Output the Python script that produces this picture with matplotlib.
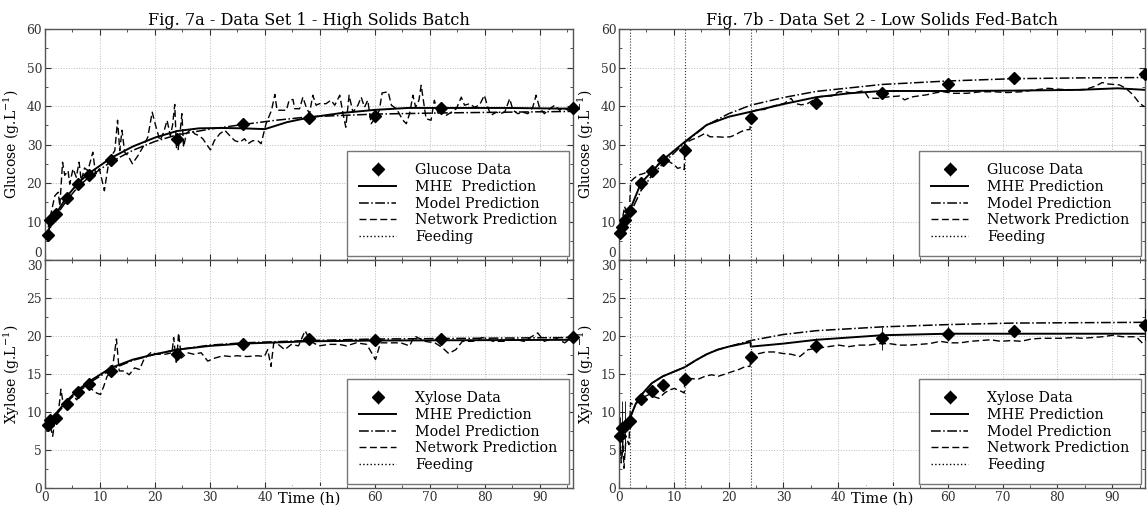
import numpy as np
import matplotlib
matplotlib.use("Agg")
import matplotlib.pyplot as plt
from matplotlib.ticker import MultipleLocator

plt.rcParams['font.family'] = ['DejaVu Serif']
plt.rcParams['mathtext.fontset'] = 'dejavuserif'

# ---- Data set 1 (high solids batch) ----
t_data_1 = [0.5, 1, 2, 4, 6, 8, 12, 24, 36, 48, 60, 72, 96]
glc_data_1 = [6.5, 10.5, 12.0, 16.0, 19.7, 22.0, 26.0, 31.5, 35.3, 37.0, 37.3, 39.5, 39.5]
glc_err_1 = [0.8, 0.8, 0.6, 0.5, 0.6, 0.5, 0.5, 1.5, 0.6, 0.6, 0.8, 0.6, 0.6]
xyl_data_1 = [8.3, 9.0, 9.2, 11.1, 12.6, 13.7, 15.4, 17.6, 19.0, 19.6, 19.5, 19.6, 19.9]
xyl_err_1 = [0.8, 0.8, 0.6, 0.4, 0.4, 0.4, 0.6, 0.8, 0.4, 0.5, 0.4, 0.4, 0.4]

t_mhe_1 = [0, 1, 2, 4, 6, 8, 12, 16, 20, 24, 28, 32, 36, 40, 44, 48, 54, 60, 66, 72, 84, 96]
glc_mhe_1 = [5.5, 9.0, 12.0, 16.5, 20.0, 22.5, 26.5, 29.5, 31.8, 33.5, 34.2, 34.3, 34.2, 34.0,
             35.8, 37.0, 38.2, 39.0, 39.5, 39.5, 39.5, 39.3]
t_mod_1 = [0, 2, 4, 6, 8, 12, 16, 20, 24, 30, 36, 42, 48, 60, 72, 84, 96]
glc_mod_1 = [5.5, 11.5, 15.5, 19.0, 21.5, 25.5, 28.5, 30.8, 32.5, 34.0, 35.2, 36.3, 37.2,
             37.9, 38.2, 38.4, 38.6]
t_xmhe_1 = [0, 2, 4, 6, 8, 12, 16, 20, 24, 30, 36, 48, 60, 96]
xyl_mhe_1 = [8.2, 9.8, 11.5, 12.9, 14.0, 15.8, 16.9, 17.6, 18.2, 18.7, 19.0, 19.3, 19.4, 19.5]
xyl_mod_1 = [8.0, 9.6, 11.3, 12.7, 13.8, 15.6, 16.8, 17.6, 18.2, 18.8, 19.1, 19.4, 19.6, 19.8]

t_net_1g = [0.2, 1.2, 1.8, 2.4, 2.7, 3.2, 3.6, 4.2, 4.5, 5.1, 5.7, 6.2, 6.6, 7.2, 7.8, 8.7, 9.2,
            9.9, 10.8, 11.5, 12.1, 12.7, 13.2, 13.6, 14.0, 14.5, 15.1, 15.9, 16.9, 17.8, 18.7,
            19.5, 20.2, 20.9, 21.6, 22.2, 22.8, 23.2, 23.6, 23.9, 24.2, 24.6, 24.9, 25.2, 25.7,
            26.6, 27.2, 28.0, 28.7, 29.3, 30.1, 30.8, 31.8, 32.7, 33.6, 34.5, 35.4, 36.3, 36.9,
            37.8, 38.7, 39.3, 40.2, 41.2, 41.8, 42.2, 43.3, 43.9, 44.4, 45.1, 45.4, 46.3, 46.9,
            47.5, 48.1, 48.7, 49.3, 49.9, 51.1, 52.0, 52.7, 53.6, 54.2, 54.7, 55.3, 56.0, 56.9,
            57.5, 58.1, 58.7, 59.3, 60.2, 60.8, 61.3, 62.4, 63.0, 63.9, 65.1, 65.7, 66.3, 66.9,
            67.4, 68.0, 68.4, 68.8, 69.3, 70.2, 70.8, 71.5, 72.1, 73.0, 73.9, 74.8, 75.7, 76.3,
            77.2, 78.1, 79.0, 79.9, 80.5, 81.1, 82.1, 82.7, 83.6, 84.5, 85.1, 86.0, 86.9, 87.8,
            88.7, 89.3, 89.9, 90.8, 91.8, 92.7, 93.6, 94.2, 95.1, 95.7]
glc_net_1 = [5.8, 12.8, 16.7, 17.6, 14.0, 25.4, 22.0, 23.2, 19.7, 23.7, 21.5, 25.4, 20.6, 23.9,
             23.2, 28.0, 22.3, 23.7, 18.0, 24.5, 27.1, 28.4, 36.3, 28.4, 33.7, 28.0, 27.1, 25.0,
             27.1, 29.3, 31.9, 38.4, 34.5, 31.0, 33.2, 36.3, 32.3, 35.0, 40.4, 29.3, 28.4, 33.7,
             38.0, 29.3, 32.8, 34.1, 32.8, 32.3, 31.5, 30.2, 28.6, 31.0, 32.8, 33.7, 32.3, 31.0,
             30.6, 31.5, 30.2, 31.0, 31.0, 30.2, 35.4, 38.9, 43.0, 38.9, 38.9, 38.9, 41.5, 41.7,
             39.3, 39.3, 42.3, 39.7, 38.0, 42.8, 40.2, 40.6, 40.6, 41.5, 40.2, 42.8, 38.0, 34.5,
             42.8, 38.4, 40.2, 42.3, 39.7, 41.5, 35.4, 37.1, 38.9, 43.4, 43.7, 40.2, 39.3, 36.3,
             35.4, 38.0, 42.8, 39.7, 41.5, 45.4, 41.5, 36.7, 36.3, 41.5, 38.0, 39.3, 37.6, 38.4,
             39.3, 42.3, 40.2, 40.6, 39.7, 40.2, 42.8, 39.7, 37.6, 38.4, 38.0, 38.4, 41.9, 38.9,
             38.0, 38.4, 38.0, 39.7, 42.8, 39.7, 38.0, 39.3, 40.2, 38.9, 39.7, 38.9, 39.7]

t_net_1x = [0, 0.7, 1.4, 1.9, 2.5, 2.9, 3.4, 4.2, 5.1, 5.8, 6.6, 7.6, 8.5, 9.4, 10.1, 10.7, 11.3,
            12.2, 13.0, 13.5, 14.4, 15.3, 16.3, 17.2, 18.1, 19.4, 20.3, 21.9, 23.1, 23.4, 23.9,
            24.3, 24.8, 25.9, 27.1, 28.4, 29.6, 30.9, 32.4, 33.7, 34.9, 36.8, 38.6, 39.9, 40.5,
            41.1, 41.6, 42.4, 43.6, 44.8, 46.1, 47.3, 48.3, 49.8, 51.7, 53.5, 54.8, 56.6, 58.5,
            60.1, 61.0, 62.9, 64.7, 66.3, 67.2, 69.1, 70.9, 72.2, 73.4, 74.7, 75.9, 77.8, 79.6,
            81.5, 83.4, 85.2, 87.1, 89.6, 90.8, 92.7, 94.5, 95.8]
xyl_net_1 = [7.2, 9.0, 6.8, 9.4, 10.3, 13.0, 10.7, 11.6, 12.1, 11.6, 13.0, 13.4, 13.0, 12.5,
             12.3, 13.4, 14.7, 15.4, 19.6, 15.4, 15.4, 14.9, 15.8, 15.6, 17.1, 17.9, 17.6, 17.6,
             17.8, 19.8, 16.3, 20.4, 17.1, 17.8, 17.6, 17.8, 16.7, 17.1, 17.4, 17.3, 17.4, 17.3,
             17.4, 17.3, 18.2, 16.0, 19.1, 18.9, 18.2, 18.9, 18.7, 20.7, 19.3, 18.7, 18.9, 18.9,
             18.7, 19.1, 18.9, 16.9, 19.1, 19.1, 19.1, 18.7, 20.0, 19.3, 19.1, 18.5, 17.7, 18.2,
             19.3, 19.3, 19.8, 19.3, 19.3, 19.6, 19.3, 20.4, 19.3, 19.8, 19.1, 19.8]

# ---- Data set 2 (low solids fed-batch) ----
t_data_2 = [0.25, 0.5, 1, 2, 4, 6, 8, 12, 24, 36, 48, 60, 72, 96]
glc_data_2 = [7.0, 8.7, 10.5, 12.7, 20.1, 23.2, 26.0, 28.6, 37.0, 40.7, 43.5, 45.6, 47.2, 48.2]
glc_err_2 = [1.2, 1.5, 1.5, 1.0, 0.6, 0.6, 0.6, 1.5, 1.5, 0.6, 0.6, 0.6, 0.6, 0.8]
xyl_data_2 = [6.9, 7.9, 8.1, 8.8, 11.7, 12.8, 13.6, 14.4, 17.2, 18.7, 19.7, 20.3, 20.7, 21.5]
xyl_err_2 = [2.5, 3.5, 3.3, 1.0, 0.5, 0.5, 0.5, 0.6, 0.8, 1.0, 1.5, 1.0, 0.8, 2.0]
feed_times = [2, 12, 24]

t_mhe_2 = [0, 1, 2, 4, 6, 8, 12, 16, 20, 24, 30, 36, 42, 48, 60, 72, 84, 91, 96]
glc_mhe_2 = [6.5, 10.0, 13.0, 20.0, 23.0, 26.0, 30.7, 35.1, 37.2, 38.5, 40.5, 42.3, 43.3, 43.9,
             43.9, 44.0, 44.2, 44.6, 44.2]
t_mod_2 = [0, 2, 4, 6, 8, 12, 16, 20, 24, 30, 36, 48, 60, 72, 84, 96]
glc_mod_2 = [6.5, 12.0, 18.0, 22.0, 25.0, 30.5, 35.0, 38.0, 40.2, 42.2, 43.8, 45.6, 46.5, 47.1,
             47.3, 47.4]
t_xmhe_2 = [0, 1, 2, 3, 4, 6, 8, 10, 12, 14, 16, 18, 20, 24, 24.05, 30, 36, 48, 60, 72, 96]
xyl_mhe_2 = [7.5, 8.2, 9.2, 11.0, 12.2, 13.8, 14.7, 15.3, 15.9, 16.8, 17.6, 18.2, 18.6, 19.2,
             18.6, 19.0, 19.5, 20.1, 20.3, 20.3, 20.3]
t_xmod_2 = [0, 1, 2, 3, 4, 6, 8, 10, 12, 14, 16, 18, 20, 24, 30, 36, 48, 60, 72, 96]
xyl_mod_2 = [7.5, 8.2, 9.2, 11.0, 12.2, 13.8, 14.7, 15.3, 15.9, 16.8, 17.6, 18.2, 18.6, 19.4,
             20.2, 20.7, 21.2, 21.5, 21.7, 21.8]

t_net_2g = [0, 0.25, 0.7, 1.0, 1.5, 1.9, 2.1, 2.7, 3.6, 4.6, 5.5, 6.4, 7.3, 8.3, 9.2, 10.1, 10.7,
            11.4, 11.9, 12.0, 13.2, 14.4, 15.7, 16.6, 17.8, 19.1, 20.3, 21.2, 22.2, 23.1, 23.9,
            24.1, 25.2, 26.5, 27.7, 29.0, 30.2, 31.4, 32.0, 33.3, 34.5, 36.4, 37.6, 38.8, 40.1,
            41.3, 42.5, 43.8, 44.7, 45.6, 47.5, 49.3, 51.2, 52.1, 53.6, 56.1, 58.0, 59.2, 61.0,
            63.5, 66.0, 68.5, 70.9, 73.4, 75.9, 78.3, 80.8, 83.3, 85.1, 87.0, 88.2, 89.4, 91.3,
            92.5, 93.8, 95.0, 95.9]
glc_net_2 = [6.1, 10.4, 11.3, 13.9, 12.1, 12.1, 20.3, 21.2, 22.1, 22.5, 23.4, 23.8, 25.1, 25.8,
             25.5, 24.7, 23.8, 24.1, 23.5, 30.3, 31.2, 31.9, 32.9, 32.0, 32.0, 31.9, 32.0, 32.5,
             33.3, 33.8, 33.9, 38.5, 39.0, 39.1, 39.8, 40.3, 40.7, 42.0, 40.7, 40.3, 40.7, 42.4,
             42.6, 42.6, 43.7, 43.7, 43.3, 43.7, 44.0, 42.0, 42.0, 42.4, 42.6, 41.6, 42.4, 42.9,
             43.5, 43.7, 43.3, 43.3, 43.7, 43.7, 43.5, 43.7, 44.2, 44.6, 44.3, 44.2, 44.3, 45.2,
             46.1, 45.7, 45.5, 44.6, 42.9, 40.7, 39.8]

t_net_2x = [0, 0.25, 0.4, 0.7, 0.9, 1.2, 1.5, 1.8, 2.1, 2.7, 3.6, 4.6, 5.5, 6.4, 7.3, 8.3, 9.2,
            10.1, 10.7, 11.4, 11.9, 12.0, 13.2, 14.4, 15.7, 16.9, 18.1, 19.4, 20.6, 21.9, 23.1,
            23.9, 24.1, 25.6, 26.8, 28.3, 29.9, 31.4, 33.0, 34.5, 36.4, 38.2, 40.1, 41.9, 43.8,
            45.6, 47.5, 49.3, 51.2, 53.0, 54.9, 56.7, 58.6, 60.4, 62.3, 64.1, 66.0, 67.8, 69.7,
            71.5, 73.4, 75.2, 77.1, 79.0, 80.8, 82.7, 84.5, 86.4, 88.2, 90.1, 91.9, 94.4, 95.6]
xyl_net_2 = [2.8, 5.5, 3.3, 6.1, 2.6, 5.9, 6.3, 5.7, 11.2, 10.9, 11.4, 12.0, 12.3, 12.0, 11.8,
             12.5, 12.9, 13.1, 12.9, 12.7, 12.5, 14.2, 14.4, 14.3, 14.7, 14.9, 14.7, 15.0, 15.3,
             15.6, 16.0, 16.0, 17.5, 17.7, 17.9, 17.9, 17.7, 17.6, 17.3, 18.2, 18.4, 18.6, 18.8,
             18.6, 18.8, 18.8, 19.0, 19.0, 18.8, 18.8, 18.9, 19.0, 19.3, 19.1, 19.1, 19.3, 19.4,
             19.5, 19.3, 19.4, 19.3, 19.6, 19.7, 19.7, 19.7, 19.8, 19.7, 19.8, 19.9, 20.1, 19.9,
             19.9, 19.0]


def style_axes(ax, ymax, ystep, upper):
    ax.set_xlim(0, 96)
    ax.set_ylim(0, ymax)
    ax.xaxis.set_major_locator(MultipleLocator(10))
    ax.xaxis.set_minor_locator(MultipleLocator(5))
    ax.set_yticks(np.arange(0, ymax + 0.1, ystep))
    ax.yaxis.set_minor_locator(MultipleLocator(ystep / 2))
    ax.tick_params(which='both', direction='in', top=True, right=True, labelsize=8.8,
                   colors='#333333', pad=2)
    ax.tick_params(which='major', length=4)
    ax.tick_params(which='minor', length=2.5)
    ax.grid(True, which='major', color='#bbbbbb', linestyle=':', linewidth=0.7)
    for s in ax.spines.values():
        s.set_color('#555555')
        s.set_linewidth(1.0)
    labels = ax.get_yticklabels()
    if upper:
        ax.tick_params(labelbottom=False)
        labels[0].set_va('bottom')
    else:
        labels[-1].set_va('top')


def draw(ax, t_d, y_d, e_d, t_m, y_m, t_mo, y_mo, t_n, y_n, feeds, name, mhe_label):
    nl, = ax.plot(t_n, y_n, color='k', linestyle=(0, (5, 2.5)), linewidth=1.0)
    ml, = ax.plot(t_mo, y_mo, color='k', linestyle='-.', linewidth=1.1)
    hl, = ax.plot(t_m, y_m, color='k', linestyle='-', linewidth=1.4)
    for f in feeds:
        ax.axvline(f, color='#333333', linestyle=':', linewidth=0.8)
    fl, = ax.plot([], [], color='k', linestyle=':', linewidth=1.0)
    dl = ax.errorbar(t_d, y_d, yerr=e_d, fmt='D', color='k', ms=6, elinewidth=0.6,
                     capsize=0, zorder=5, clip_on=False)
    leg = ax.legend([dl, hl, ml, nl, fl],
                    [name + ' Data', mhe_label, 'Model Prediction', 'Network Prediction', 'Feeding'],
                    loc='lower right', fontsize=10.3, fancybox=False, framealpha=1,
                    edgecolor='#777777', labelspacing=0.2, handlelength=2.6,
                    handletextpad=1.3, borderpad=0.85, borderaxespad=0.25)
    leg.get_frame().set_linewidth(1.0)


fig = plt.figure(figsize=(11.47, 5.11), dpi=100)
axL1 = fig.add_axes([0.0392, 0.4912, 0.4603, 0.452])
axL2 = fig.add_axes([0.0392, 0.045, 0.4603, 0.4462])
axR1 = fig.add_axes([0.5397, 0.4912, 0.4586, 0.452])
axR2 = fig.add_axes([0.5397, 0.045, 0.4586, 0.4462])

style_axes(axL1, 60, 10, True)
style_axes(axL2, 30, 5, False)
style_axes(axR1, 60, 10, True)
style_axes(axR2, 30, 5, False)

draw(axL1, t_data_1, glc_data_1, glc_err_1, t_mhe_1, glc_mhe_1, t_mod_1, glc_mod_1,
     t_net_1g, glc_net_1, [], 'Glucose', 'MHE  Prediction')
draw(axL2, t_data_1, xyl_data_1, xyl_err_1, t_xmhe_1, xyl_mhe_1, t_xmhe_1, xyl_mod_1,
     t_net_1x, xyl_net_1, [], 'Xylose', 'MHE Prediction')
draw(axR1, t_data_2, glc_data_2, glc_err_2, t_mhe_2, glc_mhe_2, t_mod_2, glc_mod_2,
     t_net_2g, glc_net_2, feed_times, 'Glucose', 'MHE Prediction')
draw(axR2, t_data_2, xyl_data_2, xyl_err_2, t_xmhe_2, xyl_mhe_2, t_xmod_2, xyl_mod_2,
     t_net_2x, xyl_net_2, feed_times, 'Xylose', 'MHE Prediction')

axL1.set_title('Fig. 7a - Data Set 1 - High Solids Batch', fontsize=11.6, pad=3)
axR1.set_title('Fig. 7b - Data Set 2 - Low Solids Fed-Batch', fontsize=11.6, pad=3)
for ax in (axL1, axR1):
    ax.set_ylabel('Glucose (g.L$^{-1}$)', fontsize=10, labelpad=3)
for ax in (axL2, axR2):
    ax.set_ylabel('Xylose (g.L$^{-1}$)', fontsize=10, labelpad=3)
    ax.set_xlabel('Time (h)', fontsize=10.5, labelpad=-9,
                  bbox=dict(facecolor='white', edgecolor='none', pad=3.5))

fig.savefig('out.png', dpi=100)
